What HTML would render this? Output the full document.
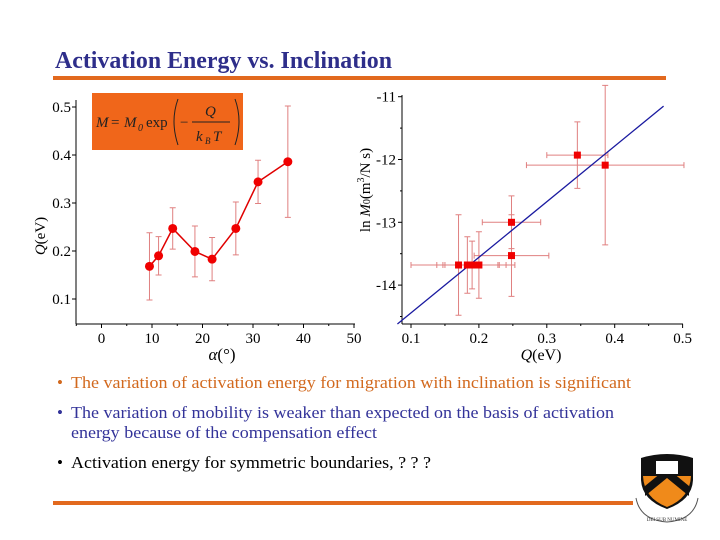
<!DOCTYPE html>
<html><head><meta charset="utf-8"><style>
html,body{margin:0;padding:0;background:#fff;}
svg{display:block;font-family:"Liberation Serif",serif;}
</style></head><body>
<svg id="s" width="720" height="540" viewBox="0 0 720 540" xmlns="http://www.w3.org/2000/svg">
<text x="55" y="68" font-size="24" font-weight="bold" fill="#2E2E8A" textLength="337" lengthAdjust="spacingAndGlyphs">Activation Energy vs. Inclination</text>
<rect x="53" y="76" width="613" height="4" fill="#E2691E"/>
<rect x="92" y="93" width="151" height="57" fill="#F0661A"/>
<g font-style="italic" font-size="15" fill="#222">
<text x="96" y="127">M</text><text x="111" y="127" font-style="normal">=</text><text x="124" y="127">M</text><text x="138" y="131" font-size="10">0</text>
<text x="146" y="127" font-style="normal">exp</text>
<path d="M178 99 Q170 121 178 145" stroke="#222" fill="none"/>
<path d="M235 99 Q243 121 235 145" stroke="#222" fill="none"/>
<text x="180" y="127" font-style="normal">−</text>
<line x1="192" y1="122" x2="230" y2="122" stroke="#222"/>
<text x="205" y="116">Q</text><text x="196" y="141">k</text><text x="205" y="144" font-size="9">B</text><text x="213" y="141">T</text>
</g>
<g id="left"></g>
<g id="right"></g>
<g font-size="17">
<text x="57" y="388" fill="#D2691E">•</text>
<text x="71" y="388" fill="#D2691E" textLength="560" lengthAdjust="spacingAndGlyphs">The variation of activation energy for migration with inclination is significant</text>
<text x="57" y="418" fill="#333399">•</text>
<text x="71" y="418" fill="#333399" textLength="543" lengthAdjust="spacingAndGlyphs">The variation of mobility is weaker than expected on the basis of activation</text>
<text x="71" y="438" fill="#333399" textLength="306" lengthAdjust="spacingAndGlyphs">energy because of the compensation effect</text>
<text x="57" y="468" fill="#000">•</text>
<text x="71" y="468" fill="#000" textLength="360" lengthAdjust="spacingAndGlyphs">Activation energy for symmetric boundaries, ? ? ?</text>
</g>
<rect x="53" y="501" width="580" height="4" fill="#E2691E"/>
<g>
<path d="M641 458 Q667 450 693 458 L693 480 Q692 500 667 509 Q642 500 641 480 Z" fill="#111"/>
<path d="M643 476 L691 476 Q690 498 667 507 Q644 498 643 476 Z" fill="#F08A1A"/>
<path d="M645 486 L667 468 L689 486 L689 496 L667 478 L645 496 Z" fill="#111"/>
<rect x="656" y="461" width="22" height="13" fill="#fff"/>
<path d="M636 498 Q640 520 667 522 Q694 520 698 498" stroke="#555" fill="none" stroke-width="1"/>
<text x="667" y="521" font-size="5" text-anchor="middle" fill="#333">DEI SUB NUMINE</text>
</g>
</svg>
<script>
// Left chart data
const alphaDeg = [9.5, 11.3, 14.1, 18.5, 21.9, 26.6, 31.0, 36.9];
const qValues = [0.168, 0.19, 0.247, 0.199, 0.183, 0.247, 0.344, 0.386];
const qErrors = [0.07, 0.04, 0.043, 0.053, 0.045, 0.055, 0.045, 0.116];
const leftXTicks = [0, 10, 20, 30, 40, 50];
const leftYTicks = [0.1, 0.2, 0.3, 0.4, 0.5];
// Right chart data
const scatterQ = [0.17, 0.183, 0.19, 0.2, 0.248, 0.248, 0.345, 0.386];
const scatterLnM = [-13.68, -13.68, -13.68, -13.68, -13.53, -13.0, -11.93, -12.09];
const scatterQErr = [0.07, 0.045, 0.04, 0.053, 0.055, 0.043, 0.045, 0.116];
const scatterLnMErr = [0.8, 0.45, 0.38, 0.53, 0.65, 0.42, 0.53, 1.27];
const fitLineQ = [0.08, 0.472];
const fitLineLnM = [-14.62, -11.15];
const rightXTicks = [0.1, 0.2, 0.3, 0.4, 0.5];
const rightYTicks = [-11, -12, -13, -14];

const NS = "http://www.w3.org/2000/svg";
function mk(parent, tag, attrs) {
  const e = document.createElementNS(NS, tag);
  for (const k in attrs) e.setAttribute(k, attrs[k]);
  parent.appendChild(e);
  return e;
}
const lx = v => 101.5 + v * 5.05;
const ly = v => 299 - (v - 0.1) * 480;
const L = document.getElementById('left');
let el;
el = mk(L, 'line', {x1: 76, y1: 324, x2: 355, y2: 324, stroke: '#000'});


el = mk(L, 'line', {x1: 76, y1: 100, x2: 76, y2: 324, stroke: '#000'});


for (const t of leftXTicks) {
  mk(L, 'line', {x1: lx(t), y1: 324, x2: lx(t), y2: 328, stroke: '#000'});
  if (t < 50) mk(L, 'line', {x1: lx(t + 5), y1: 324, x2: lx(t + 5), y2: 326, stroke: '#000'});
  el = mk(L, 'text', {x: lx(t), y: 343, 'font-size': 15, 'text-anchor': 'middle'});
  el.textContent = t;
  
  
}
mk(L, 'line', {x1: lx(-5), y1: 324, x2: lx(-5), y2: 326, stroke: '#000'});
for (const t of leftYTicks) {
  mk(L, 'line', {x1: 72, y1: ly(t), x2: 76, y2: ly(t), stroke: '#000'});
  el = mk(L, 'text', {x: 71, y: ly(t) + 5, 'font-size': 15, 'text-anchor': 'end'});
  el.textContent = t.toFixed(1);
  
  
}
el = mk(L, 'text', {x: 222, y: 360, 'font-size': 17, 'text-anchor': 'middle'});
el.innerHTML = '<tspan font-style="italic">α</tspan>(°)';


el = mk(L, 'text', {x: 0, y: 0, 'font-size': 15, 'text-anchor': 'middle', transform: 'translate(45,236) rotate(-90)'});
el.innerHTML = '<tspan font-style="italic">Q</tspan>(eV)';


for (let i = 0; i < alphaDeg.length; i++) {
  const x = lx(alphaDeg[i]);
  el = mk(L, 'path', {d: `M${x} ${ly(qValues[i] - qErrors[i])}V${ly(qValues[i] + qErrors[i])}M${x - 3} ${ly(qValues[i] - qErrors[i])}h6M${x - 3} ${ly(qValues[i] + qErrors[i])}h6`, stroke: '#E08080', fill: 'none'});
  
  
}
el = mk(L, 'polyline', {points: alphaDeg.map((a, i) => lx(a) + ',' + ly(qValues[i])).join(' '), stroke: '#E00000', 'stroke-width': 1.5, fill: 'none'});


for (let i = 0; i < alphaDeg.length; i++) {
  el = mk(L, 'circle', {cx: lx(alphaDeg[i]), cy: ly(qValues[i]), r: 4.5, fill: '#F00000'});
  
  
}
const rx = v => 411 + (v - 0.1) * 679;
const ry = v => 96.7 + (-11 - v) * 62.8;
const R = document.getElementById('right');
el = mk(R, 'line', {x1: 402, y1: 324, x2: 683, y2: 324, stroke: '#000'});


el = mk(R, 'line', {x1: 402, y1: 95, x2: 402, y2: 324, stroke: '#000'});


for (const t of rightXTicks) {
  mk(R, 'line', {x1: rx(t), y1: 324, x2: rx(t), y2: 328, stroke: '#000'});
  if (t > 0.15) mk(R, 'line', {x1: rx(t - 0.05), y1: 324, x2: rx(t - 0.05), y2: 326, stroke: '#000'});
  el = mk(R, 'text', {x: rx(t), y: 343, 'font-size': 15, 'text-anchor': 'middle'});
  el.textContent = t.toFixed(1);
  
  
}
for (const t of rightYTicks) {
  mk(R, 'line', {x1: 398, y1: ry(t), x2: 402, y2: ry(t), stroke: '#000'});
  mk(R, 'line', {x1: 400, y1: ry(t - 0.5), x2: 402, y2: ry(t - 0.5), stroke: '#000'});
  el = mk(R, 'text', {x: 396, y: ry(t) + 5, 'font-size': 15, 'text-anchor': 'end'});
  el.textContent = t;
  
  
}
el = mk(R, 'text', {x: 541, y: 360, 'font-size': 16, 'text-anchor': 'middle'});
el.innerHTML = '<tspan font-style="italic">Q</tspan>(eV)';


el = mk(R, 'text', {x: 0, y: 0, 'font-size': 15, 'text-anchor': 'middle', transform: 'translate(370,190) rotate(-90)'});
el.innerHTML = 'ln <tspan font-style="italic">M</tspan><tspan font-size="10">0</tspan>(m<tspan font-size="10" dy="-6">3</tspan><tspan dy="6">/N s)</tspan>';


for (let i = 0; i < scatterQ.length; i++) {
  const x = rx(scatterQ[i]), y = ry(scatterLnM[i]);
  const x0 = rx(scatterQ[i] - scatterQErr[i]), x1 = rx(scatterQ[i] + scatterQErr[i]);
  const y0 = ry(scatterLnM[i] - scatterLnMErr[i]), y1 = ry(scatterLnM[i] + scatterLnMErr[i]);
  el = mk(R, 'path', {d: `M${x0} ${y}H${x1}M${x0} ${y - 3}v6M${x1} ${y - 3}v6M${x} ${y0}V${y1}M${x - 3} ${y0}h6M${x - 3} ${y1}h6`, stroke: '#E08080', fill: 'none'});
  
  
}
el = mk(R, 'line', {x1: rx(fitLineQ[0]), y1: ry(fitLineLnM[0]), x2: rx(fitLineQ[1]), y2: ry(fitLineLnM[1]), stroke: '#1A1AA0', 'stroke-width': 1.3});


for (let i = 0; i < scatterQ.length; i++) {
  el = mk(R, 'rect', {x: rx(scatterQ[i]) - 3.5, y: ry(scatterLnM[i]) - 3.5, width: 7, height: 7, fill: '#F00000'});
  
  
}
</script>
</body></html>
